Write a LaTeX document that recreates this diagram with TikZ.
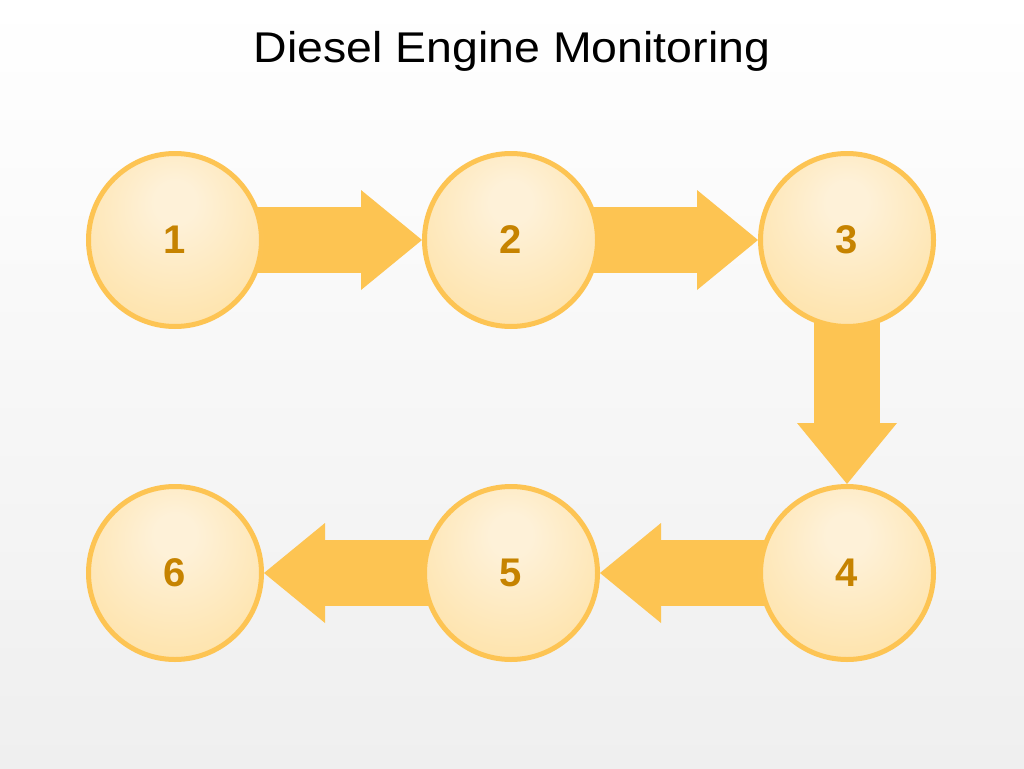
\documentclass[tikz,border=0pt]{standalone}
\usepackage{fontspec}
\setmainfont{Liberation Sans}
\usetikzlibrary{arrows.meta}

\definecolor{ringc}{HTML}{FDC453}
\definecolor{ballin}{HTML}{FEF1D8}
\definecolor{ballout}{HTML}{FDD47A}
\definecolor{numc}{HTML}{C68300}
\definecolor{flowc}{HTML}{FDC452}
\definecolor{bgbot}{HTML}{EFEFEF}

\pgfdeclareradialshading{ballshade}{\pgfpoint{0bp}{12bp}}{color(0bp)=(ballin); color(6bp)=(ballin); color(62bp)=(ballout); color(72bp)=(ballout)}

\pgfdeclarelayer{bg}
\pgfdeclarelayer{flow}
\pgfsetlayers{bg,flow,main}

\tikzset{
  ball/.style={circle, draw=ringc, line width=5pt, minimum size=173pt, inner sep=0pt,
    shading=ballshade, text=numc, font=\fontsize{40}{42}\selectfont\bfseries},
  flowarrow/.style={draw=flowc, line width=66pt,
    -{Triangle[length=61pt, width=100pt, line width=0pt, fill=flowc]}},
}

\begin{document}
\begin{tikzpicture}[x=1pt, y=-1pt]
        % background
        \begin{pgfonlayer}{bg}
        \shade[top color=white, bottom color=bgbot] (0,0) rectangle (1024,768);
        \end{pgfonlayer}
        \node (title) at (512,51) {\fontsize{43}{46}\selectfont\addfontfeature{FakeStretch=1.08}Diesel Engine Monitoring};
        % steps
        \node[ball] (n1) at (175,240) {1};
        \node[ball] (n2) at (511,240) {2};
        \node[ball] (n3) at (847,240) {3};
        \node[ball] (n4) at (847,573) {4};
        \node[ball] (n5) at (511,573) {5};
        \node[ball] (n6) at (175,573) {6};
        % arrows behind the circles
        \begin{pgfonlayer}{flow}
        \draw[flowarrow] (n1.center) -- (n2.west);
        \draw[flowarrow] (n2.center) -- (n3.west);
        \draw[flowarrow] (n3.center) -- (n4.north);
        \draw[flowarrow] (n4.center) -- (n5.east);
        \draw[flowarrow] (n5.center) -- (n6.east);
        \end{pgfonlayer}
    \end{tikzpicture}
\end{document}
